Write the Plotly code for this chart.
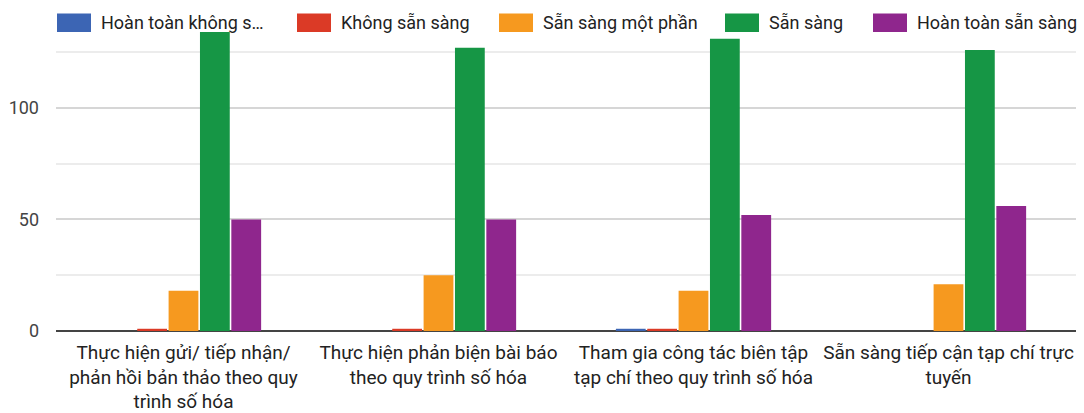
import plotly.graph_objects as go

categories = [
    "Thực hiện gửi/ tiếp nhận/<br>phản hồi bản thảo theo quy<br>trình số hóa",
    "Thực hiện phản biện bài báo<br>theo quy trình số hóa",
    "Tham gia công tác biên tập<br>tạp chí theo quy trình số hóa",
    "Sẵn sàng tiếp cận tạp chí trực<br>tuyến",
]
series_names = [
    "Hoàn toàn không sẵn sàng",
    "Không sẵn sàng",
    "Sẵn sàng một phần",
    "Sẵn sàng",
    "Hoàn toàn sẵn sàng",
]
legend_labels = [
    "Hoàn toàn không s…",
    "Không sẵn sàng",
    "Sẵn sàng một phần",
    "Sẵn sàng",
    "Hoàn toàn sẵn sàng",
]
hoan_toan_khong = [0, 0, 1, 0]
khong_san_sang = [1, 1, 1, 0]
mot_phan = [18, 25, 18, 21]
san_sang = [134, 127, 131, 126]
hoan_toan = [50, 50, 52, 56]
values = [hoan_toan_khong, khong_san_sang, mot_phan, san_sang, hoan_toan]
colors = ["#3c65b4", "#db3a26", "#f6991f", "#169645", "#8f268d"]
y_tickvals = [0, 50, 100]
y_ticktext = ["0", "50", "100"]

W, H = 1084, 413
ML, MR, MT, MB = 56, 8, 31, 82
PW, PH = W - ML - MR, H - MT - MB

fig = go.Figure()
for name, vals, col in zip(series_names, values, colors):
    fig.add_trace(go.Bar(
        x=categories, y=vals, name=name, marker=dict(color=col, line=dict(width=0)),
        showlegend=False,
    ))

def px_x(p):
    return (p - ML) / PW

def px_y(p):
    return (H - MB - p) / PH

# manual legend (wide swatches like the reference)
legend_x = [57, 297, 499, 725, 873]
sw_w, sw_top, sw_bot = 34, 13.5, 32
shapes = []
annotations = []
for lx, lab, col in zip(legend_x, legend_labels, colors):
    shapes.append(dict(type="rect", xref="paper", yref="paper",
                       x0=px_x(lx), x1=px_x(lx + sw_w), y0=px_y(sw_bot), y1=px_y(sw_top),
                       fillcolor=col, line=dict(width=0), layer="above"))
    annotations.append(dict(xref="paper", yref="paper", x=px_x(lx + sw_w + 8), y=px_y(22.5),
                            xanchor="left", yanchor="middle", text=lab, showarrow=False,
                            font=dict(family="Roboto", size=18, color="#222222")))

fig.update_layout(
    width=W, height=H,
    margin=dict(l=ML, r=MR, t=MT, b=MB, autoexpand=False),
    paper_bgcolor="white", plot_bgcolor="white",
    barmode="group", bargap=0.385, bargroupgap=0.05,
    font=dict(family="Roboto", size=18, color="#222222"),
    shapes=shapes, annotations=annotations,
    xaxis=dict(showgrid=False, showline=False, ticks="", tickangle=0,
               automargin=False, ticklabelstandoff=8,
               tickfont=dict(size=19, color="#222222")),
    yaxis=dict(range=[0, 134.5], tickvals=y_tickvals, ticktext=y_ticktext,
               automargin=False,
               showgrid=True, gridcolor="#d6d6d6", gridwidth=1.5,
               zeroline=True, zerolinecolor="#444444", zerolinewidth=2,
               showline=False, ticks="", ticklabelstandoff=16,
               tickfont=dict(size=18, color="#444444"),
               minor=dict(tickvals=[25, 75, 125], showgrid=True, gridcolor="#ececec", gridwidth=1.5)),
)
fig.write_html("out.html")
